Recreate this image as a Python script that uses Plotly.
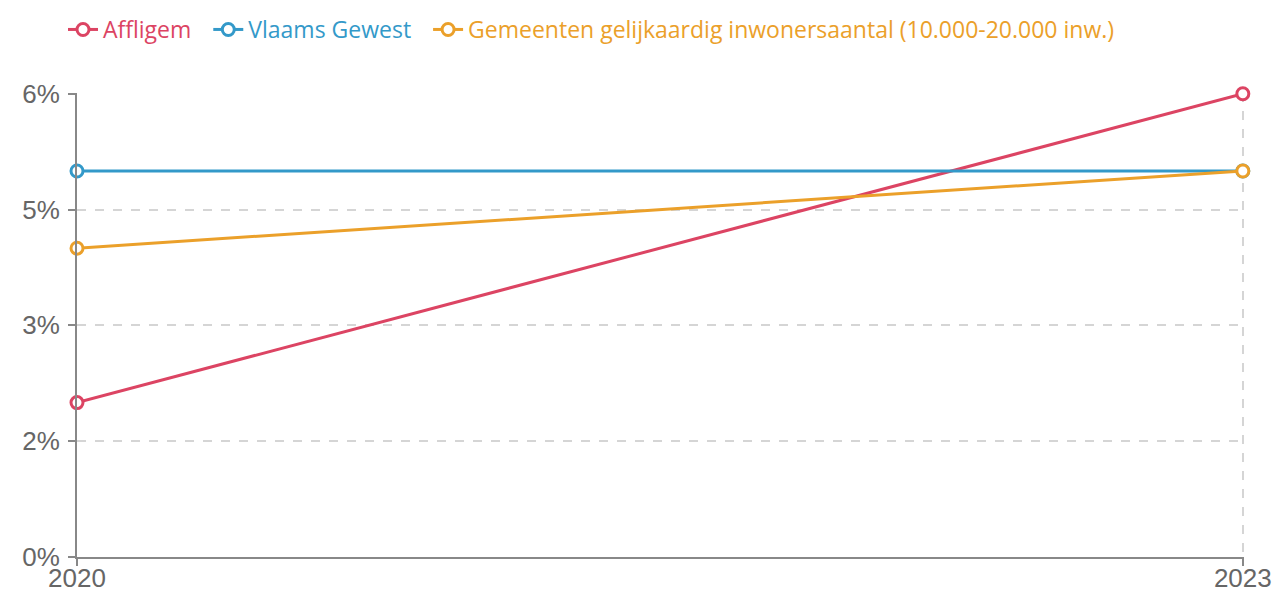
import plotly.graph_objects as go

years = [2020, 2023]
affligem = [2.0, 6.0]
vlaams_gewest = [5.0, 5.0]
gemeenten = [4.0, 5.0]

series = [
    ("Affligem", affligem, "#dc4463"),
    ("Vlaams Gewest", vlaams_gewest, "#3399c9"),
    ("Gemeenten gelijkaardig inwonersaantal (10.000-20.000 inw.)", gemeenten, "#eba02a"),
]

y_tickvals = [0, 1.5, 3, 4.5, 6]
y_ticktext = ["0%", "2%", "3%", "5%", "6%"]

fig = go.Figure()
for name, vals, color in series:
    fig.add_trace(go.Scatter(
        x=years, y=vals, mode="lines+markers",
        name=f"<span style='color:{color}'>{name}</span>&nbsp;&nbsp;",
        line=dict(color=color, width=3),
        marker=dict(symbol="circle", size=12, color="white", line=dict(color=color, width=3)),
        cliponaxis=False,
    ))

axis_common = dict(
    showline=True, linecolor="#888", linewidth=2,
    ticks="outside", ticklen=7, tickcolor="#888", tickwidth=2,
    showgrid=True, gridcolor="#d5d5d5", griddash="dash", gridwidth=1.5,
    tickfont=dict(family="Liberation Sans", size=26, color="#666"),
    zeroline=False, automargin=False,
)

W, H = 1276, 585
fig.update_layout(
    width=W, height=H,
    margin=dict(l=69, r=40, t=85, b=36),
    paper_bgcolor="white", plot_bgcolor="white",
    showlegend=True,
    legend=dict(orientation="h", x=55 / W, xanchor="left", xref="container",
                y=1, yanchor="top", yref="container", borderwidth=0,
                font=dict(family="Open Sans", size=23), itemwidth=30, tracegroupgap=0),
    xaxis=dict(range=[2020, 2023.003], tickvals=years, ticktext=[str(y) for y in years],
               ticklabelstandoff=-10, **axis_common),
    yaxis=dict(range=[0, 6.01], tickvals=y_tickvals, ticktext=y_ticktext,
               ticklabelstandoff=3, **axis_common),
)

fig.write_html("out.html")
